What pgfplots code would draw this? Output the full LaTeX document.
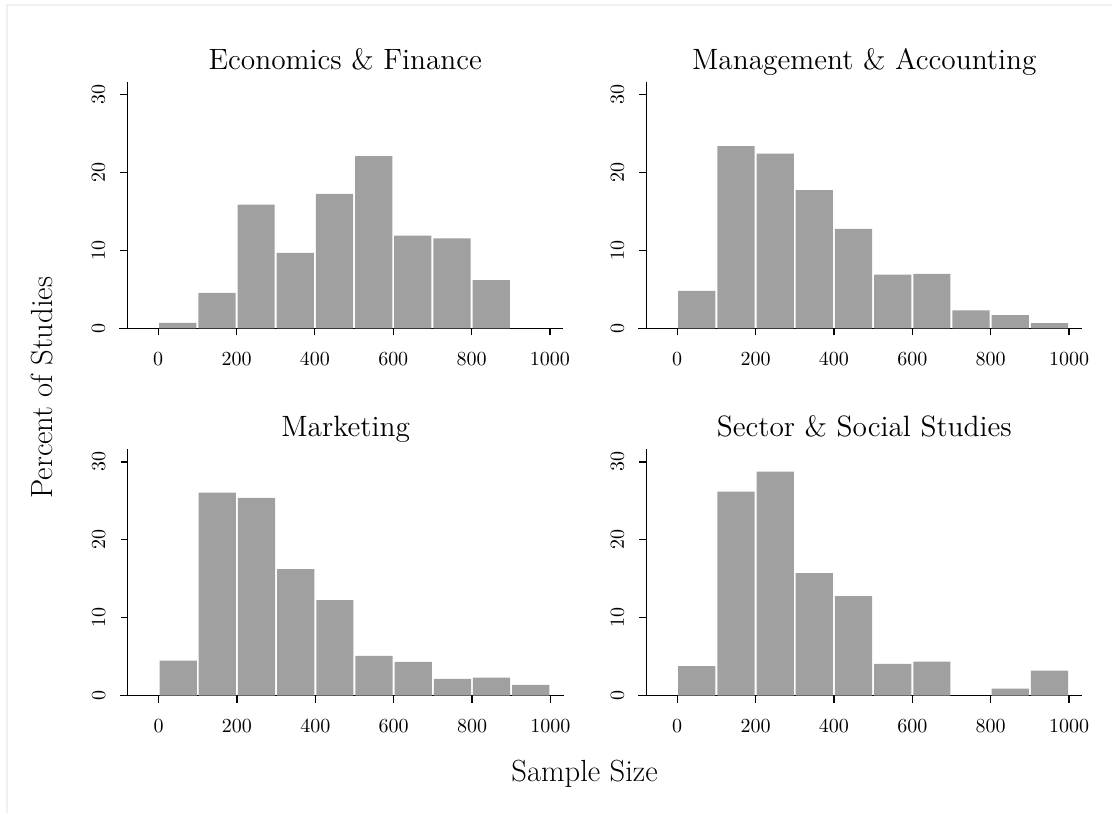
\documentclass[border=0pt]{standalone}
\usepackage{pgfplots}
\pgfplotsset{compat=1.18}
\usepackage{pgfplotstable}
\definecolor{barg}{RGB}{160,160,160}
\definecolor{frameg}{RGB}{240,240,240}

\pgfplotstableread{
x y
50 0.73
150 4.58
250 15.89
350 9.72
450 17.30
550 22.14
650 11.91
750 11.56
850 6.21
}\econ
\pgfplotstableread{
x y
50 4.84
150 23.41
250 22.47
350 17.76
450 12.80
550 6.93
650 7.02
750 2.31
850 1.71
950 0.68
}\mgmt
\pgfplotstableread{
x y
50 4.49
150 26.07
250 25.38
350 16.24
450 12.26
550 5.09
650 4.32
750 2.14
850 2.31
950 1.37
}\mkt
\pgfplotstableread{
x y
50 3.76
150 26.20
250 28.76
350 15.73
450 12.78
550 4.06
650 4.36
850 0.90
950 3.21
}\sect

\pgfplotsset{
  panel/.style={
    scale only axis,
    width=218.2pt, height=123.5pt,
    anchor=south west,
    xmin=-79, xmax=1034, ymin=0, ymax=31.7,
    axis x line*=bottom, axis y line*=left,
    x axis line style={line width=0.6pt, shorten <=-4pt},
    y axis line style={line width=0.6pt},
    xtick={0,200,400,600,800,1000},
    ytick={0,10,20,30},
    tick align=outside,
    major tick length=3.5pt,
    tick style={black, line width=0.6pt},
    minor tick num=0,
    /pgf/number format/1000 sep={},
    xticklabel style={inner sep=0pt, anchor=north, font=\fontsize{10}{12}\selectfont},
    yticklabel style={inner sep=0pt, rotate=90, anchor=south, font=\fontsize{10}{12}\selectfont},
    xticklabel shift=8.5pt,
    yticklabel shift=7.5pt,
    scaled ticks=false,
    title style={at={(0.5,1)}, anchor=base, yshift=0.3pt, font=\fontsize{14.7}{17}\selectfont},
    ybar, bar width=95, bar shift=0pt,
    clip=false,
  },
  histbar/.style={fill=barg, draw=none},
}

\begin{document}
\begin{tikzpicture}
\draw[frameg, line width=0.8pt] (3.5pt,-407pt) -- (3.5pt,-2.5pt) -- (556.5pt,-2.5pt);
\path (0pt,0pt) (556.5pt,-407pt);

\begin{axis}[panel, at={(63.65pt,-164.35pt)}, title={Economics \& Finance}]
\addplot[histbar] table[x=x,y=y] {\econ};
\end{axis}

\begin{axis}[panel, at={(323.35pt,-164.35pt)}, title={Management \& Accounting}]
\addplot[histbar] table[x=x,y=y] {\mgmt};
\end{axis}

\begin{axis}[panel, at={(63.85pt,-348pt)}, title={Marketing}]
\addplot[histbar] table[x=x,y=y] {\mkt};
\end{axis}

\begin{axis}[panel, at={(323.35pt,-348pt)}, title={Sector \& Social Studies}]
\addplot[histbar] table[x=x,y=y] {\sect};
\end{axis}

\node[anchor=base, font=\fontsize{15.3}{18}\selectfont] at (292.5pt,-391pt) {Sample Size};
\node[rotate=90, anchor=base, font=\fontsize{15.3}{18}\selectfont] at (26.5pt,-194pt) {Percent of Studies};
\end{tikzpicture}
\end{document}
